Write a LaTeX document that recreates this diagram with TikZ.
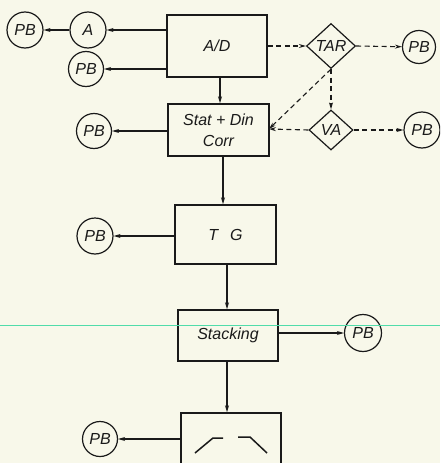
\documentclass[tikz,border=0pt]{standalone}
\usepackage{fontspec}
\setmainfont{Liberation Sans}
\usetikzlibrary{shapes.geometric,arrows.meta}
\definecolor{ink}{HTML}{1A1A1A}
\definecolor{paper}{HTML}{F8F8EA}
\definecolor{ruleline}{RGB}{80,220,170}
\tikzset{
  every node/.style={font=\fontsize{16}{21}\selectfont\itshape, text=ink},
  box/.style={draw=ink, line width=1.5pt, rectangle, inner sep=0pt},
  pb/.style={draw=ink, line width=1.2pt, circle, inner sep=0pt},
  dia/.style={draw=ink, line width=1.2pt, diamond, inner sep=0pt},
  arr/.style={draw=ink, line width=1.1pt, -{Stealth[length=7pt,width=4pt]}},
  darr/.style={arr, dash pattern=on 5pt off 3.5pt},
}
\begin{document}
\begin{tikzpicture}[x=1pt,y=-1pt]
\fill[paper] (0,0) rectangle (440,463);
\useasboundingbox (0,0) rectangle (440,463);
\clip (0,0) rectangle (440,463);
% boxes
\node[box, minimum width=100pt, minimum height=62pt] (ad) at (217,46) {A/D};
\node[box, minimum width=101pt, minimum height=52pt, align=center] (sd) at (218.5,130) {Stat + Din\\Corr};
\node[box, minimum width=101pt, minimum height=59pt] (tg) at (225.5,234.5) {T\hspace{12pt}G};
\node[box, minimum width=100pt, minimum height=51pt] (st) at (228,335.5) {Stacking};
\node[box, minimum width=100pt, minimum height=70pt] (disp) at (231,448) {};
% circles
\node[pb, minimum size=36pt] (a) at (88,30) {A};
\node[pb, minimum size=36pt] (pb1) at (25,30) {PB};
\node[pb, minimum size=35pt] (pb2) at (86,69) {PB};
\node[pb, minimum size=33pt] (pb3) at (419,47) {PB};
\node[pb, minimum size=36pt] (pb4) at (422,130) {PB};
\node[pb, minimum size=35pt] (pb5) at (94,131) {PB};
\node[pb, minimum size=36pt] (pb6) at (95,236) {PB};
\node[pb, minimum size=37pt] (pb7) at (363,333) {PB};
\node[pb, minimum size=35pt] (pb8) at (100,439) {PB};
% diamonds
\node[dia, minimum width=49pt, minimum height=45pt] (tar) at (331,46) {TAR};
\node[dia, minimum width=44pt, minimum height=40pt] (va) at (331,130) {VA};
\coordinate (cin) at (269,129);
% solid connectors
\draw[arr] (ad.west |- a) -- (a);
\draw[arr] (a) -- (pb1);
\draw[arr] (ad.west |- pb2) -- (pb2);
\draw[arr] ([xshift=3pt]ad.south) -- ([xshift=3pt]ad.south |- sd.north);
\draw[arr] (sd.west |- pb5) -- (pb5);
\draw[arr] ([xshift=4.5pt]sd.south) -- ([xshift=4.5pt]sd.south |- tg.north);
\draw[arr] (tg.west |- pb6) -- (pb6);
\draw[arr] ([xshift=1.5pt]tg.south) -- ([xshift=1.5pt]tg.south |- st.north);
\draw[arr] (st.east |- pb7) -- (pb7);
\draw[arr] ([xshift=-1pt]st.south) -- ([xshift=-1pt]st.south |- disp.north);
\draw[arr] (disp.west |- pb8) -- (pb8);
% dashed connectors
\draw[darr] (ad.east |- tar) -- (tar.west);
\draw[darr] (tar.east) -- (pb3);
\draw[darr] (tar.south) -- (va.north);
\draw[darr] (tar.south) -- (cin);
\draw[darr] (va.west) -- (cin);
\draw[darr] (va.east) -- (pb4);
% display symbol
\draw[ink, line width=1.5pt] (195,453) -- (213,438) -- (223,438);
\draw[ink, line width=1.5pt] (238,437) -- (250,437) -- (267,453);
% stray rule line on the scan
\draw[ruleline, line width=1.2pt] (0,325.5) -- (440,325.5);
\end{tikzpicture}
\end{document}
